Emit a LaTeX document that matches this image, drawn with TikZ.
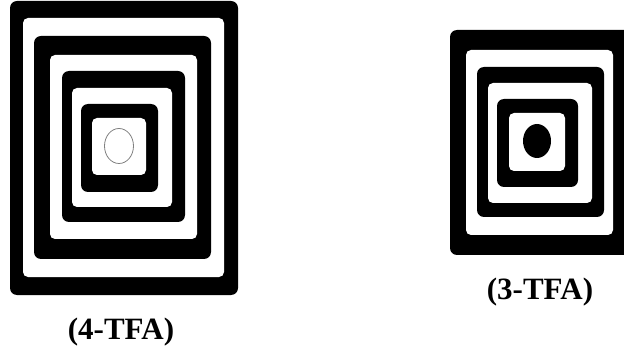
\documentclass[tikz,border=0pt]{standalone}
\usepackage{fontspec}
\setmainfont{Liberation Serif}
\usepackage{tikz}
\usetikzlibrary{positioning}
\tikzset{
  blk/.style={fill=black,rounded corners=7pt},
  wht/.style={fill=white,rounded corners=5pt},
  tag/.style={font=\fontsize{31}{36}\selectfont\bfseries,inner sep=0pt},
}
\begin{document}
\begin{tikzpicture}[x=1pt,y=-1pt]
\useasboundingbox[fill=white] (0,0) rectangle (624,358);
% 4-TFA
\fill[blk] (10,1) rectangle (238,295);
\fill[wht] (23,18) rectangle (224,277);
\fill[blk] (34,36) rectangle (211,259);
\fill[wht] (50,55) rectangle (197,239);
\fill[blk] (62,71) rectangle (185,222);
\fill[wht] (72,88) rectangle (172,207);
\fill[blk] (81,104) rectangle (158,192);
\fill[wht] (92,118) rectangle (146,175);
\draw[gray,line width=0.8pt] (119,146) ellipse [x radius=14.5,y radius=17.5];
\node[tag] (tagL) at (121,332) {(4-TFA)};
% 3-TFA
\fill[blk] (450,30) rectangle (634,255);
\fill[wht] (466,50) rectangle (613,235);
\fill[blk] (477,67) rectangle (604,217);
\fill[wht] (488,83) rectangle (592,203);
\fill[blk] (497,99) rectangle (578,187);
\fill[wht] (509,113) rectangle (565,171);
\fill (537,141) ellipse [x radius=14,y radius=17];
\node[tag] (tagR) at (540,292) {(3-TFA)};
\end{tikzpicture}
\end{document}
